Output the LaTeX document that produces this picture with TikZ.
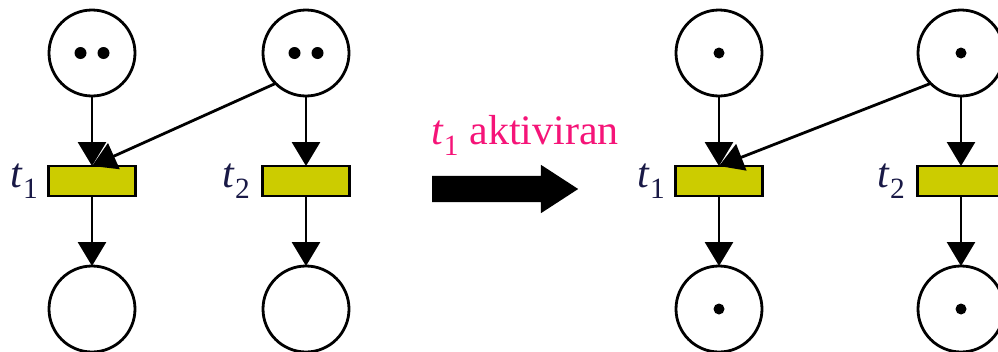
\documentclass[tikz,border=0pt]{standalone}
\usepackage{fontspec}
\setmainfont{Liberation Serif}
\newfontfamily\labelfont{Liberation Serif}
\usepackage{xcolor}
\usepackage{tikz}
\usetikzlibrary{arrows.meta, positioning, shapes.arrows}

\definecolor{transfill}{RGB}{204,204,0}
\definecolor{tcol}{RGB}{25,25,70}
\definecolor{firecol}{RGB}{245,20,120}
\newcommand{\tname}[1]{\textit{t}\textsubscript{#1}}

\begin{document}
\begin{tikzpicture}[
    x=1pt, y=1pt,
    node distance=70pt and 128pt,
    place/.style={circle, draw, line width=2.8pt, minimum size=86pt, inner sep=0pt, outer sep=0pt, fill=white},
    trans/.style={rectangle, draw, line width=2.8pt, minimum width=87pt, minimum height=30pt, inner sep=0pt, outer sep=0pt, fill=transfill},
    tlabel/.style={text=tcol, font=\labelfont\fontsize{42}{48}\selectfont, inner sep=0pt},
    arc/.style={-{Triangle[length=24pt, width=28pt]}, line width=2.8pt},
    token/.style={fill=black}
]
\useasboundingbox (0,0) rectangle (998,-351);
\clip (0,0) rectangle (998,-351);

% Marking before firing (left net)
\node[place] (lp1) at (92,-53) {};
\node[place, right=of lp1] (lp2) {};
\node[trans, below=of lp1] (lt1) {};
\node[trans, below=of lp2] (lt2) {};
\node[place, below=of lt1] (lp3) {};
\node[place, below=of lt2] (lp4) {};
\node[tlabel, left=10pt of lt1] (lt1l) {\tname{1}};
\node[tlabel, left=12pt of lt2] (lt2l) {\tname{2}};

\fill[token] ([xshift=-11.5pt]lp1.center) circle (6pt);
\fill[token] ([xshift=11.5pt]lp1.center) circle (6pt);
\fill[token] ([xshift=-11.5pt]lp2.center) circle (6pt);
\fill[token] ([xshift=11.5pt]lp2.center) circle (6pt);

\draw[arc] (lp1) -- (lt1);
\draw[arc] (lp2.south west) -- (lt1.north);
\draw[arc] (lp2) -- (lt2);
\draw[arc] (lt1) -- (lp3);
\draw[arc] (lt2) -- (lp4);

% Firing step
\node[single arrow, fill=black, inner xsep=0pt, inner ysep=13pt, minimum height=146pt,
      single arrow head extend=11pt, single arrow tip angle=66] (fire) at (495,-189) {};
\node[tlabel, text=firecol, above=20pt of fire, xshift=30pt] (firel) {\tname{1} aktiviran};

% Marking after firing (right net)
\node[place] (rp1) at (719,-53) {};
\node[place, right=156pt of rp1] (rp2) {};
\node[trans, below=of rp1] (rt1) {};
\node[trans, below=of rp2] (rt2) {};
\node[place, below=of rt1] (rp3) {};
\node[place, below=of rt2] (rp4) {};
\node[tlabel, left=10pt of rt1] (rt1l) {\tname{1}};
\node[tlabel, left=12pt of rt2] (rt2l) {\tname{2}};

\foreach \p in {rp1, rp2, rp3, rp4}
    \fill[token] (\p.center) circle (5.5pt);

\draw[arc] (rp1) -- (rt1);
\draw[arc] (rp2.south west) -- (rt1.north);
\draw[arc] (rp2) -- (rt2);
\draw[arc] (rt1) -- (rp3);
\draw[arc] (rt2) -- (rp4);

\end{tikzpicture}
\end{document}
